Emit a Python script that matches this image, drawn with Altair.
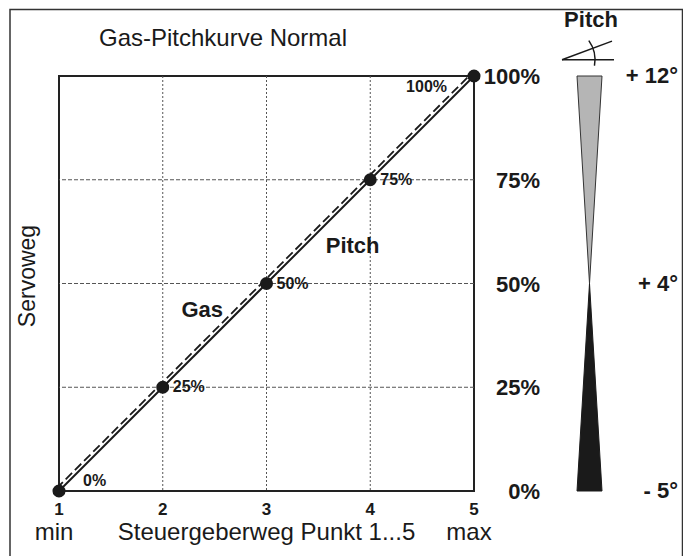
import altair as alt
import pandas as pd

# ---- data -------------------------------------------------------------
points_x = [1, 2, 3, 4, 5]                 # Steuergeberweg Punkt 1...5
servo_pct = [0, 25, 50, 75, 100]           # Servoweg in %
point_labels = ["0%", "25%", "50%", "75%", "100%"]
x_ticks = [1, 2, 3, 4, 5]
x_tick_labels = ["1", "2", "3", "4", "5"]
x_grid = [2, 3, 4]
y_ticks = [0, 25, 50, 75, 100]
y_tick_labels = ["0%", "25%", "50%", "75%", "100%"]
y_grid = [25, 50, 75]
x_extra_text = ["min", "max"]
x_extra_pos = [1, 5]
curve_names = ["Gas", "Pitch"]
curve_name_x = [2.38, 3.83]
curve_name_y = [42.0, 57.3]
pitch_servo = [100, 50, 0]                 # wedge rows (servo %)
pitch_half_width = [1, 0, 1]               # wedge half width (wedge units)
pitch_deg_labels = ["+ 12°", "+ 4°", "- 5°"]
icon_x1 = [-2.2, -2.2]
icon_x2 = [1.96, 1.8]
icon_y1 = [103.9, 103.9]
icon_y2 = [103.9, 108.4]

FONT = "Liberation Sans"
INK = "#1a1a1a"
GRID = "#555555"
W, H = 415, 415

df = pd.DataFrame({"x": points_x, "y": servo_pct, "label": point_labels})
one = pd.DataFrame({"a": [0]})
xt_df = pd.DataFrame({"x": x_ticks, "t": x_tick_labels})
yt_df = pd.DataFrame({"y": y_ticks, "t": y_tick_labels})
xg_df = pd.DataFrame({"x": x_grid})
yg_df = pd.DataFrame({"y": y_grid})
extra_df = pd.DataFrame({"x": x_extra_pos, "t": x_extra_text})
names_df = pd.DataFrame({"x": curve_name_x, "y": curve_name_y, "t": curve_names})
wedge_df = pd.DataFrame({"servo": pitch_servo, "half": pitch_half_width, "deg": pitch_deg_labels})
icon_df = pd.DataFrame({"x1": icon_x1, "x2": icon_x2, "y1": icon_y1, "y2": icon_y2})

xs = alt.Scale(domain=[1, 5], nice=False)
ys = alt.Scale(domain=[0, 100], nice=False)
ws = alt.Scale(domain=[-1, 1], range=[518, 543])


def X(field, **kw):
    return alt.X(field, scale=xs, axis=None, **kw)


def Y(field, **kw):
    return alt.Y(field, scale=ys, axis=None, **kw)


frame = alt.Chart(one).mark_rect(fillOpacity=0, stroke="#333", strokeWidth=1.5).encode(
    x=alt.value(-49), x2=alt.value(623.5), y=alt.value(-66.5), y2=alt.value(H + 75))

title = alt.Chart(one).mark_text(text="Gas-Pitchkurve Normal", font=FONT, fontSize=24,
                                 color=INK, align="center", baseline="alphabetic").encode(
    x=alt.value(164), y=alt.value(-30))

ytitle = alt.Chart(one).mark_text(text="Servoweg", font=FONT, fontSize=23, color=INK, angle=270,
                                  align="center", baseline="alphabetic").encode(
    x=alt.value(-24), y=alt.value(200))

# grid lines and axis labels
xgrid = alt.Chart(xg_df).mark_rule(color=GRID, strokeWidth=1, strokeDash=[2, 2]).encode(x=X("x:Q"))
ygrid = alt.Chart(yg_df).mark_rule(color=GRID, strokeWidth=1, strokeDash=[4, 2]).encode(y=Y("y:Q"))
xlab = alt.Chart(xt_df).mark_text(font=FONT, fontSize=17, fontWeight="bold", color=INK,
                                  align="center", baseline="middle", dy=19).encode(
    x=X("x:Q"), y=alt.Y(datum=0, scale=ys, axis=None), text="t:N")
ylab = alt.Chart(yt_df).mark_text(font=FONT, fontSize=22, fontWeight="bold", color=INK,
                                  align="right", baseline="middle", dx=66, dy=1).encode(
    x=alt.X(datum=5, scale=xs, axis=None), y=Y("y:Q"), text="t:N")
xtitle = alt.Chart(one).mark_text(text="Steuergeberweg Punkt 1...5", font=FONT, fontSize=24,
                                  color=INK, align="center", baseline="alphabetic", dy=49).encode(
    x=alt.X(datum=3, scale=xs, axis=None), y=alt.Y(datum=0, scale=ys, axis=None))
extra = alt.Chart(extra_df).mark_text(font=FONT, fontSize=24, color=INK, align="center",
                                      baseline="alphabetic", dx=-5, dy=49).encode(
    x=X("x:Q"), y=alt.Y(datum=0, scale=ys, axis=None), text="t:N")

base = alt.Chart(df)
gas = base.mark_line(color=INK, strokeWidth=1.8, strokeDash=[9, 4], xOffset=-2.5, yOffset=-2.5).encode(
    x=X("x:Q"), y=Y("y:Q"))
pitch = base.mark_line(color=INK, strokeWidth=2).encode(x=X("x:Q"), y=Y("y:Q"))
pts = base.mark_circle(size=170, color=INK, opacity=1).encode(x=X("x:Q"), y=Y("y:Q"))

lab_style = dict(font=FONT, fontSize=16, fontWeight="bold", color=INK)
lab_mid = base.transform_filter("datum.x > 1 && datum.x < 5").mark_text(
    align="left", baseline="middle", dx=10, **lab_style).encode(x=X("x:Q"), y=Y("y:Q"), text="label:N")
lab_0 = base.transform_filter("datum.x == 1").mark_text(
    align="left", baseline="middle", dx=24, dy=-10, **lab_style).encode(x=X("x:Q"), y=Y("y:Q"), text="label:N")
lab_100 = base.transform_filter("datum.x == 5").mark_text(
    align="right", baseline="middle", dx=-27, dy=11, **lab_style).encode(x=X("x:Q"), y=Y("y:Q"), text="label:N")

names = alt.Chart(names_df).mark_text(font=FONT, fontSize=22, fontWeight="bold", color=INK,
                                      align="center", baseline="alphabetic").encode(
    x=X("x:Q"), y=Y("y:Q"), text="t:N")

# ---- pitch wedge ---------------------------------------------------------
wb = alt.Chart(wedge_df).transform_calculate(l="-datum.half", r="datum.half")
gray = wb.transform_filter("datum.servo >= 50").mark_area(
    orient="horizontal", color="#b5b5b5", stroke="#333", strokeWidth=1, opacity=1).encode(
    y=Y("servo:Q"), x=alt.X("l:Q", scale=ws, axis=None), x2="r:Q")
black = wb.transform_filter("datum.servo <= 50").mark_area(
    orient="horizontal", color="#1a1a1a", stroke="#1a1a1a", strokeWidth=1, opacity=1).encode(
    y=Y("servo:Q"), x=alt.X("l:Q", scale=ws, axis=None), x2="r:Q")
deg = alt.Chart(wedge_df).mark_text(font=FONT, fontSize=22, fontWeight="bold", color=INK,
                                    align="right", baseline="middle", dx=88.5).encode(
    x=alt.X(datum=0, scale=ws, axis=None), y=Y("servo:Q"), text="deg:N")
header = alt.Chart(one).mark_text(text="Pitch", font=FONT, fontSize=22, fontWeight="bold",
                                  color=INK, align="center", baseline="alphabetic", dx=1.5, dy=-49).encode(
    x=alt.X(datum=0, scale=ws, axis=None), y=alt.Y(datum=100, scale=ys, axis=None))
icon = alt.Chart(icon_df).mark_rule(color=INK, strokeWidth=1.5).encode(
    x=alt.X("x1:Q", scale=ws, axis=None), x2="x2:Q", y=Y("y1:Q"), y2="y2:Q")
arc = alt.Chart(one).mark_arc(theta=0.95, theta2=1.75, radius=33, radius2=33, fillOpacity=0,
                              stroke=INK, strokeWidth=1.5).encode(
    x=alt.X(datum=icon_x1[0], scale=ws, axis=None), y=alt.Y(datum=icon_y1[0], scale=ys, axis=None))

chart = alt.layer(
    xgrid, ygrid, frame, title, ytitle, xlab, ylab, xtitle, extra,
    gas, pitch, pts, lab_mid, lab_0, lab_100, names,
    gray, black, deg, header, icon, arc
).resolve_scale(x="independent").properties(
    width=W, height=H,
    autosize=alt.AutoSizeParams(type="none"),
    padding={"left": 51, "top": 68, "right": 209, "bottom": 70},
    background="white",
).configure_view(stroke="#222", strokeWidth=2)

chart.save("out.html", embed_options={"renderer": "svg", "actions": False})
